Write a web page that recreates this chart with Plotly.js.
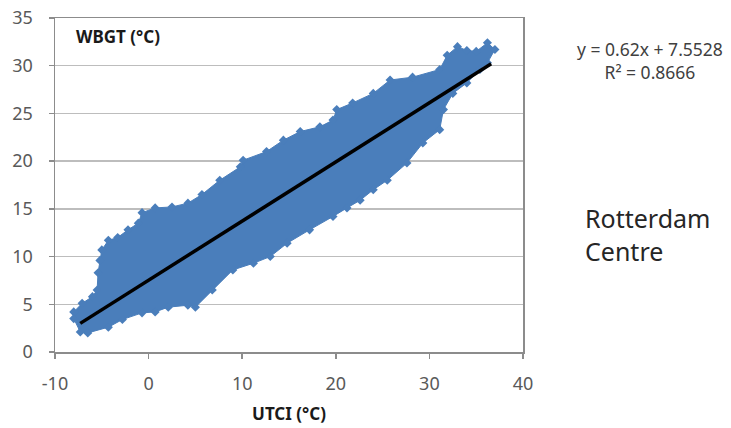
<!DOCTYPE html>
<html>
<head>
<meta charset="utf-8">
<script src="https://cdn.plot.ly/plotly-3.0.1.min.js"></script>
<style>html,body{margin:0;padding:0;background:#fff;}#chart{width:731px;height:428px;}</style>
</head>
<body>
<div id="chart"></div>
<script>
// Outline of the dense point cloud (UTCI, WBGT), clockwise from the lower-left tip
const cloudUTCI = [-8.0,-7.1,-6.0,-5.5,-5.4,-5.2,-5.0,-4.3,-3.3,-2.2,-1.1,-0.7,0.7,2.5,4.2,5.7,7.6,9.8,10.1,12.6,14.4,16.2,18.3,19.7,20.1,21.8,24.0,25.8,28.2,31.1,31.9,33.0,34.0,35.0,36.2,37.0,36.2,35.4,34.0,32.5,31.5,31.1,29.3,27.6,25.5,24.0,22.6,21.2,19.7,17.2,14.8,13.0,11.2,9.0,6.8,5.0,4.2,2.1,0.7,-0.7,-2.8,-4.3,-6.5,-7.3,-8.0];
const cloudWBGT = [4.2,5.1,5.8,6.5,8.3,9.6,10.7,11.7,12.0,12.8,13.5,14.6,15.1,15.2,15.6,16.5,18.0,19.4,20.1,21.0,22.2,23.1,23.6,24.3,25.4,26.1,27.1,28.5,28.8,29.6,31.1,32.0,31.6,31.5,32.4,31.7,30.3,29.6,28.2,27.1,25.4,23.3,21.9,19.8,18.0,17.0,15.9,15.1,14.2,12.8,11.4,10.0,9.3,8.6,6.5,4.7,4.9,4.7,4.2,4.1,3.4,2.6,2.0,2.1,3.5];
// Linear trendline endpoints
const trendUTCI = [-7.3, 36.6];
const trendWBGT = [3.0, 30.2];
const xTicks = [-10, 0, 10, 20, 30, 40];
const yTicks = [0, 5, 10, 15, 20, 25, 30, 35];
const equationText = 'y = 0.62x + 7.5528<br>R² = 0.8666';
const siteText = 'Rotterdam<br>Centre';

const blue = '#4A7EBB';
const traces = [
  {x: cloudUTCI, y: cloudWBGT, type: 'scatter', mode: 'lines+markers', fill: 'toself',
   fillcolor: blue, line: {color: blue, width: 1},
   marker: {symbol: 'diamond', size: 7, color: blue}, hoverinfo: 'skip'},
  {x: trendUTCI, y: trendWBGT, type: 'scatter', mode: 'lines',
   line: {color: '#000000', width: 3.5}, hoverinfo: 'skip'}
];
const axisFont = {family: 'Noto Sans, sans-serif', size: 18, color: '#595959'};
const layout = {
  width: 731, height: 428,
  margin: {l: 55, r: 208, t: 18, b: 76},
  paper_bgcolor: '#ffffff', plot_bgcolor: '#ffffff',
  showlegend: false,
  xaxis: {range: [-10, 40], tickvals: xTicks, ticktext: xTicks.map(String),
    showgrid: false, zeroline: false, showline: true, linecolor: '#8c8c8c', linewidth: 1.5,
    mirror: true, ticks: 'outside', ticklen: 5, tickcolor: '#8c8c8c', tickwidth: 1.5,
    ticklabelstandoff: 10, tickfont: axisFont,
    title: {text: '<b>UTCI (°C)</b>', font: {family: 'Noto Sans, sans-serif', size: 17, color: '#1a1a1a'}, standoff: 14}},
  yaxis: {range: [0, 35], tickvals: yTicks, ticktext: yTicks.map(String),
    showgrid: true, gridcolor: '#bdbdbd', gridwidth: 1.5, zeroline: false,
    showline: true, linecolor: '#8c8c8c', linewidth: 1.5, mirror: true,
    ticks: 'outside', ticklen: 5, tickcolor: '#8c8c8c', tickwidth: 1.5,
    ticklabelstandoff: 12, tickfont: axisFont},
  annotations: [
    {xref: 'paper', yref: 'paper', x: 0.04, y: 0.944, xanchor: 'left', yanchor: 'middle',
     text: '<b>WBGT (°C)</b>', showarrow: false,
     font: {family: 'Noto Sans, sans-serif', size: 17, color: '#1a1a1a'}},
    {xref: 'paper', yref: 'paper', x: (650 - 55) / 468, y: (352 - 60) / 334, xanchor: 'center', yanchor: 'middle',
     text: equationText, showarrow: false, align: 'center',
     font: {family: 'Noto Sans, sans-serif', size: 17.5, color: '#404040'}},
    {xref: 'paper', yref: 'paper', x: (583 - 55) / 468, y: (352 - 234) / 334, xanchor: 'left', yanchor: 'middle',
     text: siteText, showarrow: false, align: 'left',
     font: {family: 'Noto Sans, sans-serif', size: 25, color: '#262626'}}
  ]
};
Plotly.newPlot('chart', traces, layout, {staticPlot: true, displayModeBar: false});
</script>
</body>
</html>
